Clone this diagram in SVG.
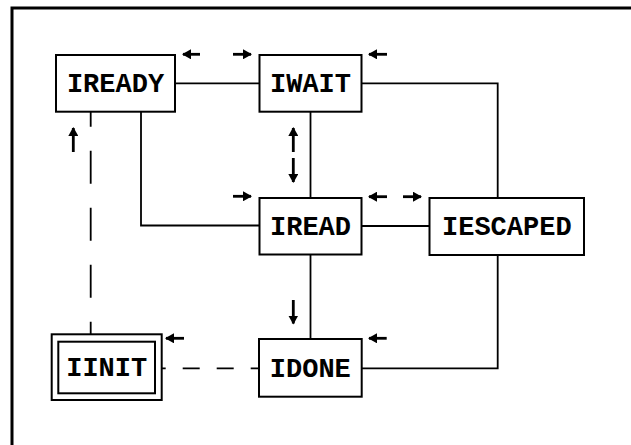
<svg xmlns="http://www.w3.org/2000/svg" width="631" height="445" viewBox="0 0 631 445">
<defs>
<style>
.box{fill:#fff;stroke:#000;stroke-width:2}
.lbl{font-family:"Liberation Mono","DejaVu Sans Mono",monospace;font-weight:bold;font-size:27px;text-anchor:middle;fill:#000}
.ln{fill:none;stroke:#000;stroke-width:1.8}
.dash1{stroke-dasharray:33 24;stroke-dashoffset:18}
.dash2{stroke-dasharray:17 17;stroke-dashoffset:13}
.arr{stroke:#000;stroke-width:2.8;fill:none;marker-end:url(#ah)}
</style>
<marker id="ah" markerUnits="userSpaceOnUse" markerWidth="9" markerHeight="10" refX="8" refY="5" orient="auto">
<path d="M0,0 L9,5 L0,10 z" fill="#000"/>
</marker>
</defs>
<rect width="631" height="445" fill="#fff"/>
<path d="M12,450 L12,8 L640,8" fill="none" stroke="#000" stroke-width="3"/>
<g id="connectors">
<path class="ln" d="M175,83.3 H259.5"/>
<path class="ln" d="M361.5,83.3 H497.7 V198"/>
<path class="ln" d="M141,111.7 V225.5 H259.5"/>
<path class="ln" d="M310.5,111.7 V198"/>
<path class="ln" d="M361.5,226 H429.5"/>
<path class="ln" d="M310.5,254.5 V339"/>
<path class="ln" d="M497.7,255 V368.3 H361.7"/>
<path class="ln dash2" d="M161.7,368.3 H259"/>
<path class="ln dash1" d="M90.7,111.7 V334.3"/>
<path class="arr" d="M200,54.3 H183"/>
<path class="arr" d="M233,54.3 H251"/>
<path class="arr" d="M387,54.3 H369"/>
<path class="arr" d="M73.3,152 V128"/>
<path class="arr" d="M293.3,152 V128"/>
<path class="arr" d="M293.3,158 V182"/>
<path class="arr" d="M233,196.3 H251"/>
<path class="arr" d="M387,196.7 H369"/>
<path class="arr" d="M403,196.7 H421"/>
<path class="arr" d="M293.3,300 V323.5"/>
<path class="arr" d="M184,338.3 H166"/>
<path class="arr" d="M386.7,338.3 H369"/>
</g>
<g id="IREADY"><rect class="box" x="56" y="55" width="119" height="56.7"/><text class="lbl" x="115.5" y="92">IREADY</text></g>
<g id="IWAIT"><rect class="box" x="259.5" y="55" width="102" height="56.7"/><text class="lbl" x="310.5" y="92">IWAIT</text></g>
<g id="IREAD"><rect class="box" x="259.5" y="198" width="102" height="56.5"/><text class="lbl" x="310.5" y="235">IREAD</text></g>
<g id="IESCAPED"><rect class="box" x="429.5" y="198" width="154.5" height="57"/><text class="lbl" x="506.8" y="235">IESCAPED</text></g>
<g id="IINIT"><rect class="box" x="51.7" y="334.3" width="110" height="65.7"/><rect class="box" x="58.3" y="341.7" width="96.7" height="51.6"/><text class="lbl" x="106.7" y="376">IINIT</text></g>
<g id="IDONE"><rect class="box" x="259" y="339" width="102.7" height="57.7"/><text class="lbl" x="310.3" y="376.5">IDONE</text></g>
</svg>
